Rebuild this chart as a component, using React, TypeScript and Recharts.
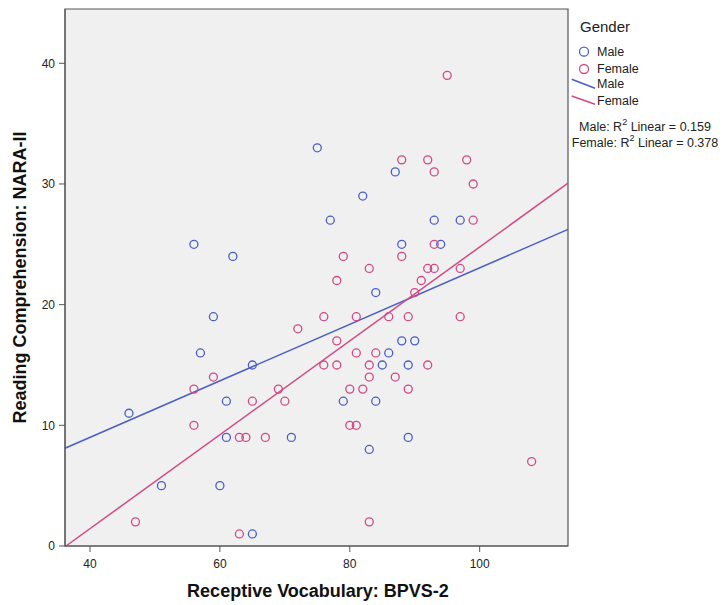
import React from 'react';
import { ScatterChart, Scatter, XAxis, YAxis, CartesianGrid, ReferenceLine, ReferenceArea } from 'recharts';

const maleX = [46, 51, 56, 57, 59, 60, 61, 61, 62, 65, 65, 71, 75, 77, 79, 82, 83, 84, 84, 85, 86, 87, 88, 88, 89, 89, 90, 93, 94, 97];
const maleY = [11, 5, 25, 16, 19, 5, 12, 9, 24, 15, 1, 9, 33, 27, 12, 29, 8, 21, 12, 15, 16, 31, 25, 17, 15, 9, 17, 27, 25, 27];

const femaleX = [47, 56, 56, 59, 63, 63, 64, 65, 67, 69, 70, 72, 76, 76, 78, 78, 78, 79, 80, 80, 81, 81, 81, 82, 83, 83, 83, 83, 84, 86, 87, 88, 88, 89, 89, 90, 91, 92, 92, 92, 93, 93, 93, 95, 97, 97, 98, 99, 99, 108];
const femaleY = [2, 13, 10, 14, 9, 1, 9, 12, 9, 13, 12, 18, 19, 15, 22, 17, 15, 24, 13, 10, 19, 16, 10, 13, 23, 15, 14, 2, 16, 19, 14, 32, 24, 19, 13, 21, 22, 32, 23, 15, 31, 25, 23, 39, 23, 19, 32, 30, 27, 7];

const xDomain = [36.15, 113.6];
const yDomain = [0, 44.5];
const xTicks = [40, 60, 80, 100];
const yTicks = [0, 10, 20, 30, 40];

const maleFit = [{ x: 36.15, y: 8.1 }, { x: 113.6, y: 26.24 }];
const femaleFit = [{ x: 36.3, y: 0 }, { x: 113.6, y: 30.07 }];

const legendTitle = 'Gender';
const legendNames = ['Male', 'Female'];
const r2Values = ['0.159', '0.378'];

const BLUE = '#4a5fc3';
const PINK = '#d04a86';
const FONT = '"Liberation Sans", Arial, sans-serif';

const maleData = maleX.map((x, i) => ({ x, y: maleY[i] }));
const femaleData = femaleX.map((x, i) => ({ x, y: femaleY[i] }));

const ring = (color: string) => (props: any) => (
  <circle cx={props.cx} cy={props.cy} r={4} fill="none" stroke={color} strokeWidth={1.3} />
);

export default function App() {
  return (
    <div style={{ position: 'absolute', left: 0, top: 0, width: 725, height: 605, background: '#fff', fontFamily: FONT }}>
      <ScatterChart width={725} height={605} margin={{ top: 9, right: 157, left: 25, bottom: 29 }}>
        <CartesianGrid horizontal={false} vertical={false} fill="#f0f0f0" />
        <XAxis
          type="number"
          dataKey="x"
          domain={xDomain}
          ticks={xTicks}
          allowDataOverflow
          height={30}
          tickSize={6}
          tickMargin={7}
          stroke="#555"
          tick={{ fill: '#222', fontSize: 12, fontFamily: FONT }}
        />
        <YAxis
          type="number"
          dataKey="y"
          domain={yDomain}
          ticks={yTicks}
          allowDataOverflow
          width={40}
          tickSize={6}
          tickMargin={4}
          stroke="#555"
          tick={{ fill: '#222', fontSize: 12, fontFamily: FONT }}
        />
        <ReferenceArea x1={xDomain[0]} x2={xDomain[1]} y1={yDomain[0]} y2={yDomain[1]} fill="none" stroke="#555" strokeWidth={1.2} />
        <ReferenceLine segment={maleFit} stroke={BLUE} strokeWidth={1.5} ifOverflow="visible" />
        <ReferenceLine segment={femaleFit} stroke={PINK} strokeWidth={1.5} ifOverflow="visible" />
        <Scatter data={maleData} shape={ring(BLUE)} isAnimationActive={false} />
        <Scatter data={femaleData} shape={ring(PINK)} isAnimationActive={false} />
      </ScatterChart>
      <svg width={725} height={605} style={{ position: 'absolute', left: 0, top: 0, pointerEvents: 'none' }}>
        <text x={20} y={277.5} transform="rotate(-90 20 277.5)" textAnchor="middle" dominantBaseline="central" fontSize={18} fontWeight="bold" fontFamily={FONT} fill="#111">
          Reading Comprehension: NARA-II
        </text>
        <text x={318} y={591} textAnchor="middle" dominantBaseline="central" fontSize={18} fontWeight="bold" fontFamily={FONT} fill="#111">
          Receptive Vocabulary: BPVS-2
        </text>
        <text x={580} y={26} dominantBaseline="central" fontSize={15} fontFamily={FONT} fill="#222">{legendTitle}</text>
        <circle cx={584} cy={51.7} r={4.5} fill="none" stroke={BLUE} strokeWidth={1.3} />
        <text x={597} y={51.7} dominantBaseline="central" fontSize={12.5} fontFamily={FONT} fill="#222">{legendNames[0]}</text>
        <circle cx={584} cy={69} r={4.5} fill="none" stroke={PINK} strokeWidth={1.3} />
        <text x={597} y={69} dominantBaseline="central" fontSize={12.5} fontFamily={FONT} fill="#222">{legendNames[1]}</text>
        <line x1={571.7} y1={79.3} x2={595} y2={88.3} stroke={BLUE} strokeWidth={1.5} />
        <text x={597} y={84} dominantBaseline="central" fontSize={12.5} fontFamily={FONT} fill="#222">{legendNames[0]}</text>
        <line x1={571.7} y1={96} x2={595} y2={104.3} stroke={PINK} strokeWidth={1.5} />
        <text x={597} y={100.7} dominantBaseline="central" fontSize={12.5} fontFamily={FONT} fill="#222">{legendNames[1]}</text>
        <text x={645} y={127.3} textAnchor="middle" dominantBaseline="central" fontSize={12.5} fontFamily={FONT} fill="#222">
          {legendNames[0]}: R<tspan dy={-5} fontSize={9}>2</tspan><tspan dy={5}> Linear = {r2Values[0]}</tspan>
        </text>
        <text x={645} y={143.3} textAnchor="middle" dominantBaseline="central" fontSize={12.5} fontFamily={FONT} fill="#222">
          {legendNames[1]}: R<tspan dy={-5} fontSize={9}>2</tspan><tspan dy={5}> Linear = {r2Values[1]}</tspan>
        </text>
      </svg>
    </div>
  );
}
